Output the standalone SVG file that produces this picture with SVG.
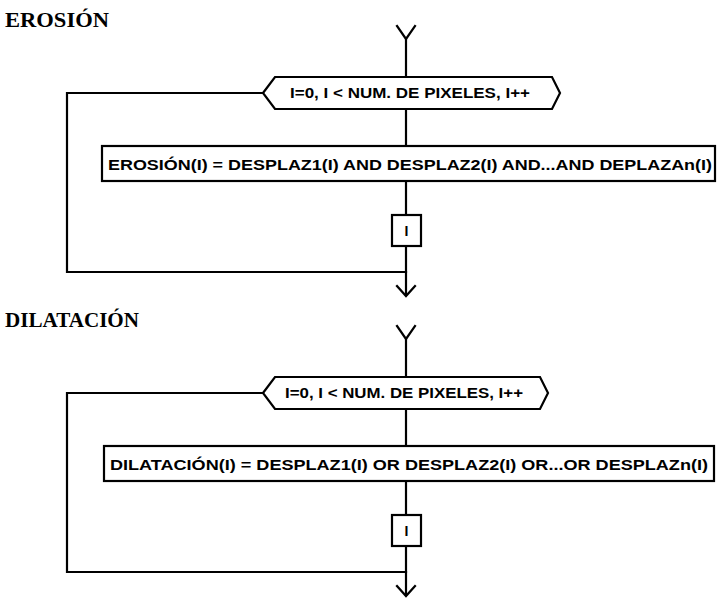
<svg xmlns="http://www.w3.org/2000/svg" width="718" height="604" viewBox="0 0 718 604">
<style>
.ln{fill:none;stroke:#000;stroke-width:2.2;stroke-linecap:square}
.bx{fill:#fff;stroke:#000;stroke-width:2.2}
.ttl{font-family:"Liberation Serif","Times New Roman",serif;font-weight:bold;font-size:21px;fill:#000}
.tx{font-family:"Liberation Sans",Arial,sans-serif;font-weight:bold;fill:#000}
</style>
<rect width="718" height="604" fill="#fff"/>
<text class="ttl" x="5" y="27" textLength="104" lengthAdjust="spacingAndGlyphs">EROSIÓN</text>
<text class="ttl" x="5" y="327" textLength="134" lengthAdjust="spacingAndGlyphs">DILATACIÓN</text>
<g id="connectors">
<polyline class="ln" points="397,26 406,39 415,26"/>
<line class="ln" x1="406" y1="39" x2="406" y2="77"/>
<line class="ln" x1="406" y1="109" x2="406" y2="146"/>
<line class="ln" x1="406" y1="181" x2="406" y2="215"/>
<line class="ln" x1="406" y1="246" x2="406" y2="295"/>
<polyline class="ln" points="397,286 406,296 415,286"/>
<polyline class="ln" points="263,93 67,93 67,272 406,272"/>
<polyline class="ln" points="397,326 406,339 415,326"/>
<line class="ln" x1="406" y1="339" x2="406" y2="377"/>
<line class="ln" x1="406" y1="409" x2="406" y2="446"/>
<line class="ln" x1="406" y1="481" x2="406" y2="515"/>
<line class="ln" x1="406" y1="546" x2="406" y2="595"/>
<polyline class="ln" points="397,586 406,596 415,586"/>
<polyline class="ln" points="263,393 67,393 67,572 406,572"/>
</g>
<g id="loop1">
<polygon class="bx" points="263,93 275,77 552,77 560,93 552,109 275,109"/>
<text class="tx" x="290" y="98" font-size="14" textLength="240" lengthAdjust="spacingAndGlyphs">I=0, I &lt; NUM. DE PIXELES, I++</text>
</g>
<g id="erosion">
<rect class="bx" x="102" y="146" width="613" height="35"/>
<text class="tx" x="108" y="169.5" font-size="15" textLength="604" lengthAdjust="spacingAndGlyphs">EROSIÓN(I) = DESPLAZ1(I) AND DESPLAZ2(I) AND...AND DEPLAZAn(I)</text>
</g>
<g id="iter1">
<rect class="bx" x="392" y="215" width="29" height="31"/>
<text class="tx" x="406.5" y="236" font-size="14" text-anchor="middle">I</text>
</g>
<g id="loop2">
<polygon class="bx" points="263,393 275,377 540,377 548,393 540,409 275,409"/>
<text class="tx" x="285" y="398" font-size="14" textLength="238" lengthAdjust="spacingAndGlyphs">I=0, I &lt; NUM. DE PIXELES, I++</text>
</g>
<g id="dilatacion">
<rect class="bx" x="104" y="446" width="610" height="35"/>
<text class="tx" x="110" y="469.5" font-size="15" textLength="598" lengthAdjust="spacingAndGlyphs">DILATACIÓN(I) = DESPLAZ1(I) OR DESPLAZ2(I) OR...OR DESPLAZn(I)</text>
</g>
<g id="iter2">
<rect class="bx" x="392" y="515" width="29" height="31"/>
<text class="tx" x="406.5" y="536" font-size="14" text-anchor="middle">I</text>
</g>
</svg>
